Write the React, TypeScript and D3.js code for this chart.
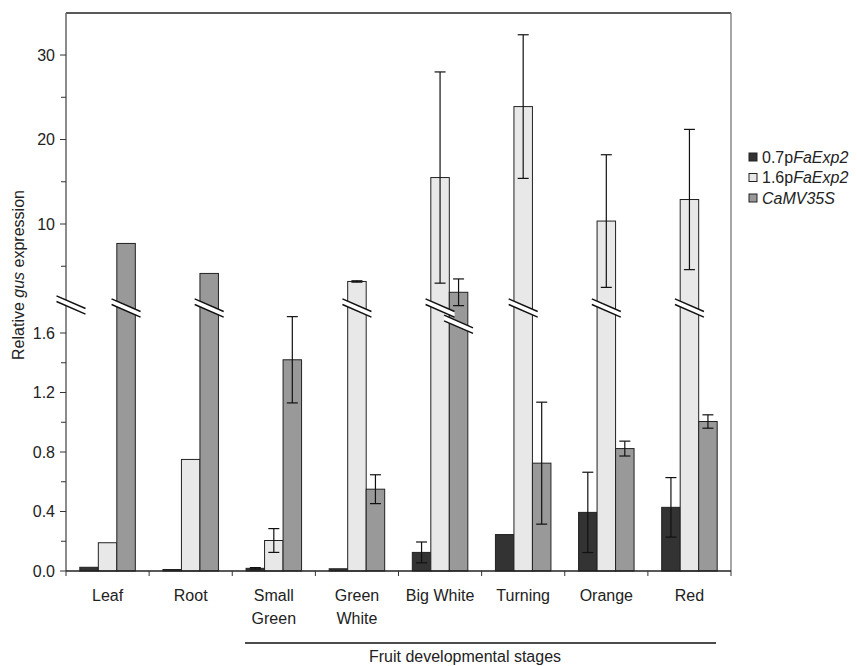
import React from "react";
import * as d3 from "d3";

const categories = [["Leaf"], ["Root"], ["Small", "Green"], ["Green", "White"], ["Big White"], ["Turning"], ["Orange"], ["Red"]];
const seriesNames = ["0.7p", "1.6p", "CaMV35S"];
const vals07 = [0.025, 0.01, 0.018, 0.015, 0.125, 0.245, 0.394, 0.428];
const err07 = [0, 0, 0.005, 0, 0.07, 0, 0.27, 0.2];
const vals16 = [0.19, 0.75, 0.205, 3.2, 15.5, 23.9, 10.35, 12.9];
const err16 = [0, 0, 0.08, 0.08, 12.5, 8.5, 7.85, 8.3];
const vals35 = [7.7, 4.15, 1.42, 0.55, 1.92, 0.725, 0.823, 1.005];
const err35 = [0, 0, 0.29, 0.097, 1.58, 0.41, 0.05, 0.045];
const lowerTicks = [0, 0.4, 0.8, 1.2, 1.6];
const lowerMinor = [0.2, 0.6, 1.0, 1.4];
const upperTicks = [10, 20, 30];
const upperMinor = [5, 15, 25];

const series = [
  { vals: vals07, errs: err07, fill: "#333333" },
  { vals: vals16, errs: err16, fill: "#e8e8e8" },
  { vals: vals35, errs: err35, fill: "#999999" },
];

const BREAK_VALUE = 1.76;
const FONT = "Liberation Sans, Arial, sans-serif";

export default function App() {
  const left = 66, right = 731, bottom = 571;
  const lower = d3.scaleLinear().domain([0, 1.6]).range([bottom, 333]);
  const upper = d3.scaleLinear().domain([0, 35]).range([308.5, 12.8]);
  const x0 = d3.scaleBand().domain(d3.range(categories.length).map(String)).range([left, right]).paddingInner(0).paddingOuter(0);
  const bw = 18.5;
  const groupW = bw * 3;
  const fmt = d3.format(".1f");

  const breakMark = (cx: number, by: number, key: string) => {
    const hw = 14.5, dy = 6.3, gap = 2.8;
    const p = [
      [cx - hw, by - gap - dy], [cx + hw, by - gap + dy],
      [cx + hw, by + gap + dy], [cx - hw, by + gap - dy],
    ];
    return (
      <g key={key}>
        <polygon points={p.map((q) => q.join(",")).join(" ")} fill="#fff" />
        <line x1={p[0][0]} y1={p[0][1]} x2={p[1][0]} y2={p[1][1]} stroke="#111" strokeWidth={1.4} />
        <line x1={p[3][0]} y1={p[3][1]} x2={p[2][0]} y2={p[2][1]} stroke="#111" strokeWidth={1.4} />
      </g>
    );
  };

  const bars: React.ReactNode[] = [];
  const breaks: React.ReactNode[] = [];
  const errs: React.ReactNode[] = [];
  categories.forEach((_, i) => {
    const bx = (x0(String(i)) as number) + (x0.bandwidth() - groupW) / 2;
    series.forEach((s, j) => {
      const v = s.vals[i];
      const e = s.errs[i];
      const isUpper = v > BREAK_VALUE;
      const sc = isUpper ? upper : lower;
      const top = sc(v);
      const xx = bx + j * bw;
      bars.push(
        <rect key={`b${i}-${j}`} x={xx} y={top} width={bw} height={bottom - top} fill={s.fill} stroke="#222" strokeWidth={1} />
      );
      if (isUpper) {
        const by = top > 290 ? top + 32 : 308;
        breaks.push(breakMark(xx + bw / 2, by, `k${i}-${j}`));
      }
      if (e > 0) {
        const cx = xx + bw / 2;
        const y1 = sc(v + e), y2 = sc(Math.max(0, v - e));
        errs.push(
          <g key={`e${i}-${j}`} stroke="#111" strokeWidth={1.2}>
            <line x1={cx} x2={cx} y1={y1} y2={y2} />
            <line x1={cx - 5.5} x2={cx + 5.5} y1={y1} y2={y1} />
            <line x1={cx - 5.5} x2={cx + 5.5} y1={y2} y2={y2} />
          </g>
        );
      }
    });
  });

  const legendItems = [
    { fill: "#333333", parts: [["0.7p", false], ["FaExp2", true]] },
    { fill: "#e8e8e8", parts: [["1.6p", false], ["FaExp2", true]] },
    { fill: "#999999", parts: [["CaMV35S", true]] },
  ];

  return (
    <svg width={857} height={666} style={{ position: "absolute", left: 0, top: 0, background: "#fff" }} fontFamily={FONT}>
      <rect x={0} y={0} width={857} height={666} fill="#fff" />
      <line x1={left} x2={right} y1={13} y2={13} stroke="#222" strokeWidth={1.3} />
      <line x1={right} x2={right} y1={13} y2={bottom} stroke="#777" strokeWidth={1.3} />
      {bars}
      {errs}
      {breaks}
      <line x1={left} x2={left} y1={13} y2={bottom} stroke="#666" strokeWidth={1.5} />
      {lowerTicks.map((t) => (
        <g key={`lt${t}`}>
          <line x1={left - 6} x2={left} y1={lower(t)} y2={lower(t)} stroke="#333" />
          <text x={55} y={lower(t)} dy="0.35em" textAnchor="end" fontSize={16} fill="#222">{fmt(t)}</text>
        </g>
      ))}
      {lowerMinor.map((t) => (
        <line key={`lm${t}`} x1={left - 5} x2={left} y1={lower(t)} y2={lower(t)} stroke="#333" />
      ))}
      {upperTicks.map((t) => (
        <g key={`ut${t}`}>
          <line x1={left - 6} x2={left} y1={upper(t)} y2={upper(t)} stroke="#333" />
          <text x={55} y={upper(t)} dy="0.35em" textAnchor="end" fontSize={16} fill="#222">{t}</text>
        </g>
      ))}
      {upperMinor.map((t) => (
        <line key={`um${t}`} x1={left - 5} x2={left} y1={upper(t)} y2={upper(t)} stroke="#333" />
      ))}
      {breakMark(71, 305, "axisbreak")}
      <line x1={left} x2={right} y1={bottom} y2={bottom} stroke="#222" strokeWidth={1.3} />
      {d3.range(categories.length + 1).map((i) => {
        const xx = left + i * x0.bandwidth();
        return <line key={`xt${i}`} x1={xx} x2={xx} y1={bottom} y2={bottom + 5} stroke="#333" />;
      })}
      {categories.map((lines, i) => (
        <text key={`xl${i}`} x={(x0(String(i)) as number) + x0.bandwidth() / 2} y={595} textAnchor="middle" fontSize={16} fill="#222">
          {lines.map((l, k) => (
            <tspan key={k} x={(x0(String(i)) as number) + x0.bandwidth() / 2} dy={k === 0 ? "0.35em" : 23}>{l}</tspan>
          ))}
        </text>
      ))}
      <line x1={245} x2={716} y1={643} y2={643} stroke="#111" strokeWidth={1.4} />
      <text x={465} y={656} dy="0.35em" textAnchor="middle" fontSize={16} fill="#222">Fruit developmental stages</text>
      <text transform="translate(18,275) rotate(-90)" textAnchor="middle" dy="0.35em" fontSize={16} fill="#222">
        Relative <tspan fontStyle="italic">gus</tspan> expression
      </text>
      {legendItems.map((it, i) => {
        const yy = 157 + i * 20.5;
        return (
          <g key={`lg${i}`}>
            <rect x={749} y={yy - 4} width={8} height={8} fill={it.fill} stroke="#222" strokeWidth={1} />
            <text x={762} y={yy} dy="0.35em" fontSize={16} fill="#222">
              {it.parts.map((p, k) => (
                <tspan key={k} fontStyle={p[1] ? "italic" : "normal"}>{p[0] as string}</tspan>
              ))}
            </text>
          </g>
        );
      })}
    </svg>
  );
}
